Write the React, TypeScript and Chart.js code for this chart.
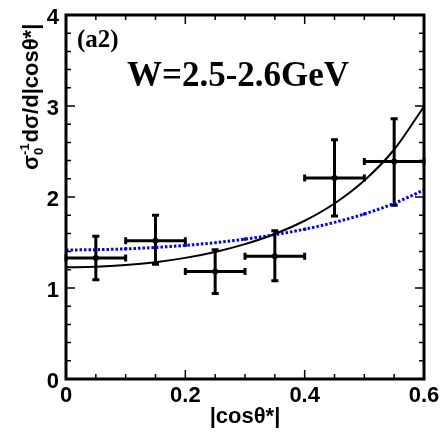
import React, { useEffect, useRef } from "react";
import { Chart, registerables } from "chart.js";

Chart.register(...registerables);

// Data points (bin centres, half widths, values, error bounds)
const binCenters = [0.05, 0.15, 0.25, 0.35, 0.45, 0.55];
const binHalfWidths = [0.05, 0.05, 0.05, 0.05, 0.05, 0.05];
const yValues = [1.33, 1.52, 1.18, 1.35, 2.21, 2.39];
const yUpper = [1.57, 1.8, 1.42, 1.63, 2.63, 2.86];
const yLower = [1.09, 1.26, 0.94, 1.08, 1.79, 1.91];

// Fit curves
const fitX = [0, 0.05, 0.1, 0.15, 0.2, 0.25, 0.3, 0.35, 0.4, 0.45, 0.5, 0.55, 0.6];
const blackFit = [1.227, 1.233, 1.252, 1.284, 1.331, 1.396, 1.482, 1.593, 1.739, 1.929, 2.181, 2.522, 2.995];
const blueFit = [1.418, 1.421, 1.43, 1.446, 1.468, 1.498, 1.537, 1.586, 1.646, 1.721, 1.813, 1.93, 2.077];

// Axes
const xTickValues = [0, 0.2, 0.4, 0.6];
const xTickLabels = ["0", "0.2", "0.4", "0.6"];
const yTickValues = [0, 1, 2, 3, 4];
const yTickLabels = ["0", "1", "2", "3", "4"];
const panelLabel = "(a2)";
const energyLabel = "W=2.5-2.6GeV";
const xTitle = "|cosθ*|";

const SANS = "'Liberation Sans', Arial, sans-serif";
const SERIF = "'Liberation Serif', 'Times New Roman', serif";

const framePlugin = {
  id: "frameAndErrors",
  beforeDatasetsDraw(chart: any) {
    const { ctx, scales } = chart;
    const x = scales.x;
    const y = scales.y;
    ctx.save();
    ctx.strokeStyle = "#000";
    ctx.fillStyle = "#000";
    ctx.lineWidth = 3;
    ctx.lineCap = "butt";
    for (let i = 0; i < binCenters.length; i++) {
      const cx = x.getPixelForValue(binCenters[i]);
      const cy = y.getPixelForValue(yValues[i]);
      const x0 = x.getPixelForValue(binCenters[i] - binHalfWidths[i]);
      const x1 = x.getPixelForValue(binCenters[i] + binHalfWidths[i]);
      const yu = y.getPixelForValue(yUpper[i]);
      const yl = y.getPixelForValue(yLower[i]);
      ctx.beginPath();
      ctx.moveTo(x0, cy);
      ctx.lineTo(x1, cy);
      ctx.moveTo(cx, yu);
      ctx.lineTo(cx, yl);
      // caps
      ctx.moveTo(cx - 3.5, yu);
      ctx.lineTo(cx + 3.5, yu);
      ctx.moveTo(cx - 3.5, yl);
      ctx.lineTo(cx + 3.5, yl);
      ctx.moveTo(x0, cy - 3.5);
      ctx.lineTo(x0, cy + 3.5);
      ctx.moveTo(x1, cy - 3.5);
      ctx.lineTo(x1, cy + 3.5);
      ctx.stroke();
    }
    ctx.restore();
  },
  afterDraw(chart: any) {
    const { ctx, chartArea, scales } = chart;
    const { left, right, top, bottom } = chartArea;
    const x = scales.x;
    const y = scales.y;
    ctx.save();
    ctx.strokeStyle = "#000";
    ctx.fillStyle = "#000";
    // ticks
    ctx.lineWidth = 1.5;
    ctx.beginPath();
    for (let k = 0; k <= 20; k++) {
      const v = k * 0.2;
      const py = y.getPixelForValue(v);
      const len = k % 5 === 0 ? 9 : 5;
      ctx.moveTo(left, py);
      ctx.lineTo(left + len, py);
      ctx.moveTo(right, py);
      ctx.lineTo(right - len, py);
    }
    for (let k = 0; k <= 12; k++) {
      const v = k * 0.05;
      const px = x.getPixelForValue(v);
      const len = k % 4 === 0 ? 9 : 5;
      ctx.moveTo(px, bottom);
      ctx.lineTo(px, bottom - len);
      ctx.moveTo(px, top);
      ctx.lineTo(px, top + len);
    }
    ctx.stroke();
    // frame
    ctx.lineWidth = 3;
    ctx.strokeRect(left, top, right - left, bottom - top);

    // tick labels
    ctx.font = `bold 22px ${SANS}`;
    ctx.textBaseline = "alphabetic";
    ctx.textAlign = "center";
    xTickValues.forEach((v, i) => {
      ctx.fillText(xTickLabels[i], x.getPixelForValue(v), 402);
    });
    ctx.textAlign = "right";
    yTickValues.forEach((v, i) => {
      ctx.fillText(yTickLabels[i], 59, y.getPixelForValue(v) + 9);
    });

    // x title
    ctx.textAlign = "center";
    ctx.font = `bold 22px ${SANS}`;
    ctx.fillText(xTitle, (left + right) / 2, 423);

    // y title (rotated)
    ctx.save();
    ctx.translate(38, 170);
    ctx.rotate(-Math.PI / 2);
    ctx.textAlign = "left";
    ctx.font = `bold 22px ${SANS}`;
    let cur = 0;
    ctx.fillText("σ", cur, 0);
    cur += ctx.measureText("σ").width;
    ctx.font = `bold 13px ${SANS}`;
    const supW = ctx.measureText("-1").width;
    ctx.fillText("-1", cur, -9);
    ctx.fillText("0", cur, 5);
    cur += supW + 1;
    ctx.font = `bold 22px ${SANS}`;
    ctx.fillText("dσ/d|cosθ*|", cur, 0);
    ctx.restore();

    // annotations
    ctx.textAlign = "left";
    ctx.font = `bold 25px ${SERIF}`;
    ctx.fillText(panelLabel, 77, 47);
    ctx.font = `bold 35px ${SERIF}`;
    ctx.fillText(energyLabel, 127, 86);
    ctx.restore();
  },
};

export default function App() {
  const ref = useRef<HTMLCanvasElement | null>(null);
  useEffect(() => {
    if (!ref.current) return;
    const chart = new Chart(ref.current, {
      type: "line",
      data: {
        datasets: [
          {
            label: "fit1",
            data: fitX.map((v, i) => ({ x: v, y: blackFit[i] })),
            borderColor: "#000",
            borderWidth: 2,
            pointRadius: 0,
            tension: 0.4,
            cubicInterpolationMode: "monotone",
            fill: false,
          },
          {
            label: "fit2",
            data: fitX.map((v, i) => ({ x: v, y: blueFit[i] })),
            borderColor: "#0000ff",
            backgroundColor: "#0000ff",
            borderWidth: 3,
            borderDash: [2.5, 2],
            pointRadius: (c: any) => (c.dataIndex % 2 === 0 && c.dataIndex > 0 && c.dataIndex < 12 ? 1.8 : 0),
            pointBorderWidth: 0,
            tension: 0.4,
            cubicInterpolationMode: "monotone",
            fill: false,
          },
          {
            label: "data",
            data: binCenters.map((v, i) => ({ x: v, y: yValues[i] })),
            showLine: false,
            pointRadius: 3,
            pointBackgroundColor: "#000",
            pointBorderColor: "#000",
            pointBorderWidth: 0,
          },
        ],
      },
      options: {
        animation: false,
        responsive: false,
        layout: { padding: { left: 66, right: 19, top: 15, bottom: 54 } },
        plugins: { legend: { display: false }, tooltip: { enabled: false } },
        scales: {
          x: { type: "linear", min: 0, max: 0.6, display: false },
          y: { type: "linear", min: 0, max: 4, display: false },
        },
      },
      plugins: [framePlugin],
    } as any);
    return () => chart.destroy();
  }, []);
  return (
    <div style={{ position: "fixed", left: 0, top: 0, width: 443, height: 433, background: "#fff" }}>
      <canvas ref={ref} width={443} height={433} style={{ width: 443, height: 433 }} />
    </div>
  );
}
